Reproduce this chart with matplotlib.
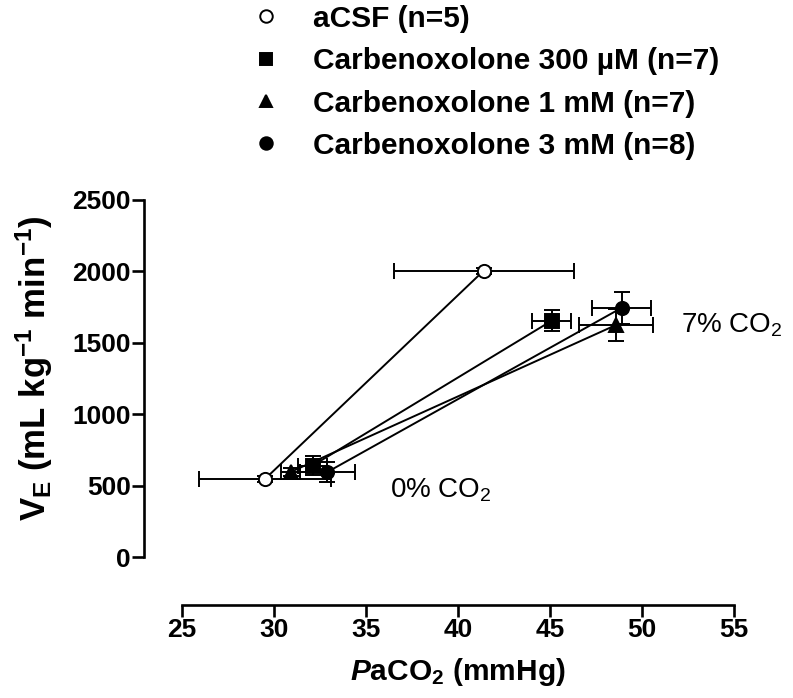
import numpy as np
import matplotlib
matplotlib.use('Agg')
import matplotlib.pyplot as plt

plt.rcParams['font.family'] = ['Liberation Sans', 'DejaVu Sans']
plt.rcParams['mathtext.fontset'] = 'custom'
plt.rcParams['mathtext.rm'] = 'Liberation Sans'
plt.rcParams['mathtext.it'] = 'Liberation Sans:italic:bold'
plt.rcParams['mathtext.bf'] = 'Liberation Sans:bold'
plt.rcParams['mathtext.default'] = 'regular'

# data: [0% CO2, 7% CO2]
labels = ['aCSF (n=5)', 'Carbenoxolone 300 µM (n=7)',
          'Carbenoxolone 1 mM (n=7)', 'Carbenoxolone 3 mM (n=8)']
paco2 = [[29.5, 41.4], [32.1, 45.1], [30.9, 48.6], [32.9, 48.9]]
paco2_err = [[3.6, 4.9], [0.8, 1.05], [0.5, 2.0], [1.5, 1.6]]
ve = [[545, 2005], [640, 1655], [595, 1625], [595, 1745]]
ve_err = [[20, 20], [65, 75], [30, 115], [70, 112]]
markers = ['o', 's', '^', 'o']
faces = ['white', 'black', 'black', 'black']

fig = plt.figure(figsize=(7.93, 6.98), dpi=100)
ax = fig.add_axes([0.2295, 0.202, 0.696, 0.5115])

for i in range(len(labels)):
    ax.errorbar(paco2[i], ve[i], xerr=paco2_err[i], yerr=ve_err[i],
                fmt='none', ecolor='black', elinewidth=1.4, capsize=6,
                capthick=1.4, zorder=2)
    ax.plot(paco2[i], ve[i], color='black', lw=1.4, marker=markers[i],
            markersize=9.5, markerfacecolor=faces[i],
            markeredgecolor='black', markeredgewidth=1.4, zorder=3)

ax.set_xlim(25, 55)
ax.set_ylim(0, 2500)
ax.set_xticks(np.arange(25, 56, 5))
ax.set_yticks(np.arange(0, 2501, 500))

for side in ['top', 'right']:
    ax.spines[side].set_visible(False)
ax.spines['left'].set_position(('outward', 27.4))
ax.spines['bottom'].set_position(('outward', 34.5))
for side in ['left', 'bottom']:
    ax.spines[side].set_linewidth(1.9)
ax.tick_params(width=1.9, length=8.5, labelsize=19, pad=1)
for lab in ax.get_xticklabels() + ax.get_yticklabels():
    lab.set_fontweight('bold')

ax.set_xlabel('$\\mathit{P}$aCO$_2$ (mmHg)', fontsize=21.5, fontweight='bold', labelpad=10)
ax.set_ylabel('V$_E$ (mL kg$^{-1}$ min$^{-1}$)', fontsize=25, fontweight='bold')
ax.yaxis.set_label_coords(-0.23, 0.53)

ax.text(52.1, 1625, '7% CO$_2$', fontsize=20, va='center', ha='left')
ax.text(36.3, 470, '0% CO$_2$', fontsize=20, va='center', ha='left')

leg_handles = []
for i in range(len(labels)):
    lh, = ax.plot([], [], linestyle='none', marker=markers[i], markersize=9,
                  markerfacecolor=faces[i], markeredgecolor='black',
                  markeredgewidth=1.4)
    leg_handles.append(lh)
fig.legend(leg_handles, labels, loc='upper left', bbox_to_anchor=(0.316, 0.993),
           frameon=False, handlelength=1.0, handletextpad=1.1, labelspacing=0.48,
           borderpad=0, borderaxespad=0, prop={'size': 21.5, 'weight': 'bold'})

fig.savefig('out.png', dpi=100)
